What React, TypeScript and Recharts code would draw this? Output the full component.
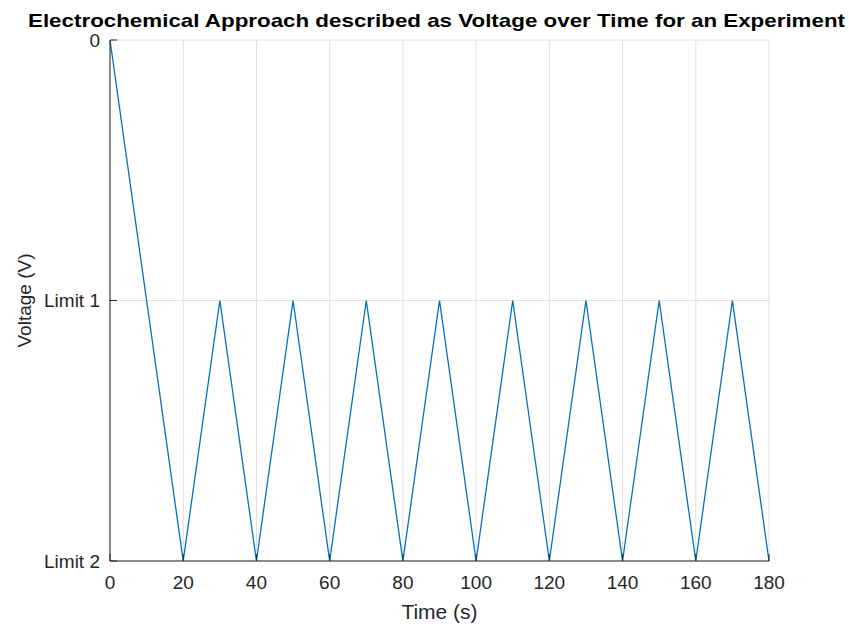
import React from "react";
import { CartesianGrid, Line, LineChart, XAxis, YAxis } from "recharts";

// time (s) of each turning point and the voltage level there (0 = start, -1 = Limit 1, -2 = Limit 2)
const times = [0, 20, 30, 40, 50, 60, 70, 80, 90, 100, 110, 120, 130, 140, 150, 160, 170, 180];
const levels = [0, -2, -1, -2, -1, -2, -1, -2, -1, -2, -1, -2, -1, -2, -1, -2, -1, -2];
const xTicks = [0, 20, 40, 60, 80, 100, 120, 140, 160, 180];
const yTicks = [-2, -1, 0];
const yTickLabels: Record<string, string> = { "0": "0", "-1": "Limit 1", "-2": "Limit 2" };

const data = times.map((t, i) => ({ t, v: levels[i] }));

const FONT = '"Liberation Sans", Arial, Helvetica, sans-serif';
const AXIS = "#262626";
const GRID = "#e0e0e0";
const BLUE = "#0072bd";

const XTick = (props: any) => {
  const { x, y, payload, top } = props;
  if (top) {
    return <line x1={x} x2={x} y1={y} y2={y + 7} stroke={AXIS} strokeWidth={1} />;
  }
  return (
    <g>
      <line x1={x} x2={x} y1={y - 15} y2={y - 22} stroke={AXIS} strokeWidth={1} />
      <text x={x} y={y} dy="0.71em" textAnchor="middle" fontFamily={FONT} fontSize={19} fill={AXIS}>
        {payload.value}
      </text>
    </g>
  );
};

const YTick = (props: any) => {
  const { x, y, payload, right } = props;
  if (right) {
    return <line x1={x} x2={x - 7} y1={y} y2={y} stroke={AXIS} strokeWidth={1} />;
  }
  return (
    <g>
      <line x1={x + 10} x2={x + 17} y1={y} y2={y} stroke={AXIS} strokeWidth={1} />
      <text x={x} y={y} dy="0.35em" textAnchor="end" fontFamily={FONT} fontSize={19} fill={AXIS}>
        {yTickLabels[String(payload.value)]}
      </text>
    </g>
  );
};

export default function App() {
  return (
    <div style={{ position: "fixed", left: 0, top: 0, width: 849, height: 626, background: "#fff" }}>
      <LineChart width={849} height={626} data={data} margin={{ top: 40, right: 80, bottom: 15, left: 10 }}>
        <CartesianGrid stroke={GRID} horizontalValues={yTicks} verticalValues={xTicks} />
        <XAxis
          xAxisId="top"
          orientation="top"
          dataKey="t"
          type="number"
          domain={[0, 180]}
          ticks={xTicks}
          height={0}
          tickSize={0}
          tickMargin={0}
          axisLine={{ stroke: AXIS }}
          tickLine={false}
          tick={<XTick top />}
        />
        <XAxis
          dataKey="t"
          type="number"
          domain={[0, 180]}
          ticks={xTicks}
          height={50}
          tickSize={0}
          tickMargin={15}
          axisLine={{ stroke: AXIS }}
          tickLine={false}
          tick={<XTick />}
          label={{ value: "Time (s)", position: "insideBottom", offset: -8, fill: AXIS, fontSize: 21, fontFamily: FONT }}
        />
        <YAxis
          yAxisId="right"
          orientation="right"
          type="number"
          domain={[-2, 0]}
          ticks={yTicks}
          width={0}
          tickSize={0}
          tickMargin={0}
          axisLine={{ stroke: AXIS }}
          tickLine={false}
          tick={<YTick right />}
        />
        <YAxis
          type="number"
          domain={[-2, 0]}
          ticks={yTicks}
          width={100}
          tickSize={0}
          tickMargin={10}
          axisLine={{ stroke: AXIS }}
          tickLine={false}
          tick={<YTick />}
          label={{
            value: "Voltage (V)",
            angle: -90,
            position: "insideLeft",
            offset: 14,
            style: { textAnchor: "middle" },
            fill: AXIS,
            fontSize: 19,
            fontFamily: FONT,
          }}
        />
        <Line
          dataKey="v"
          stroke={BLUE}
          strokeWidth={1.3}
          dot={false}
          isAnimationActive={false}
          type="linear"
        />
      </LineChart>
      <svg width={849} height={34} style={{ position: "absolute", left: 0, top: 0 }}>
        <text
          x={28}
          y={27}
          textLength={817}
          lengthAdjust="spacingAndGlyphs"
          fontFamily={FONT}
          fontWeight="bold"
          fontSize={19}
          fill="#000"
        >
          Electrochemical Approach described as Voltage over Time for an Experiment
        </text>
      </svg>
    </div>
  );
}
